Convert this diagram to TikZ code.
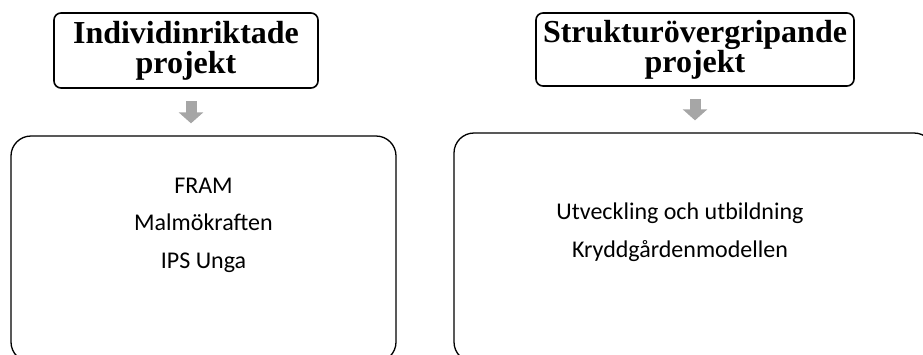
\documentclass[tikz,border=0pt]{standalone}
\usepackage{fontspec}
\setmainfont{Carlito}
\newfontfamily\headfont{Liberation Serif}
\usetikzlibrary{arrows.meta}
\tikzstyle{headbox}=[draw, line width=1.6pt, rounded corners=7pt, align=center, inner sep=0pt, font=\headfont\bfseries\fontsize{32}{30}\selectfont]
\tikzstyle{listbox}=[draw, line width=1.3pt, rounded corners=20pt, inner sep=0pt]
\tikzstyle{listtext}=[align=center, inner sep=0pt, font=\fontsize{24}{37.5}\selectfont]
\tikzstyle{blockarrow}=[draw=black!35, line width=11pt, shorten <=12pt, shorten >=12pt, -{Triangle[width=24pt,length=11pt,fill=black!35]}]

\begin{document}
\begin{tikzpicture}[x=1pt, y=-1pt]
        \useasboundingbox (0,0) rectangle (923,354);
        \node[headbox, minimum width=264pt, minimum height=75pt] (ind) at (186, 50.5) {Individinriktade\\projekt};
        \node[headbox, minimum width=318pt, minimum height=73pt] (str) at (695, 49.5) {Strukturövergripande\\projekt};
        \node[listbox, minimum width=385pt, minimum height=226pt] (indbox) at (203.5, 249) {};
        \node[listbox, minimum width=480pt, minimum height=229pt] (strbox) at (694, 247.5) {};
        \node[listtext] (indlist) at (203.5, 225) {FRAM\\Malmökraften\\IPS Unga};
        \node[listtext] (strlist) at (680, 232) {Utveckling och utbildning\\Kryddgårdenmodellen};
        \draw[blockarrow] ([xshift=5pt]ind.south) -- ([xshift=5pt]ind.south |- indbox.north);
        \draw[blockarrow] (str.south) -- (str.south |- strbox.north);
    \end{tikzpicture}
\end{document}
